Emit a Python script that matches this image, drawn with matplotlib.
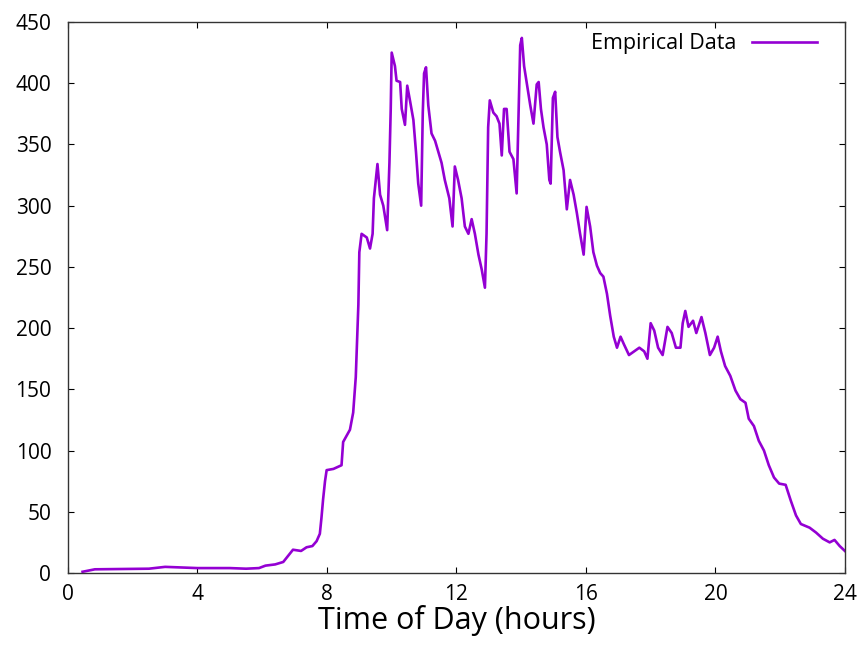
import matplotlib
matplotlib.use("Agg")
import matplotlib.pyplot as plt

# Time of day (hours) and empirical value
hours = [0.45, 0.83, 2.5, 3.0, 4.0, 5.0, 5.5, 5.9, 6.1, 6.4, 6.65, 6.8, 6.95, 7.2, 7.37,
         7.55, 7.68, 7.78, 7.83, 7.88, 7.94, 7.99, 8.2, 8.45, 8.5, 8.71, 8.81, 8.89, 8.94,
         8.97, 9.0, 9.07, 9.23, 9.33, 9.41, 9.45, 9.56, 9.64, 9.74, 9.86, 9.93, 9.97, 10.0,
         10.1, 10.15, 10.26, 10.31, 10.41, 10.48, 10.57, 10.67, 10.75, 10.82, 10.91, 10.96,
         11.0, 11.06, 11.13, 11.23, 11.34, 11.44, 11.54, 11.64, 11.78, 11.88, 11.95, 12.05,
         12.16, 12.26, 12.37, 12.47, 12.57, 12.68, 12.78, 12.88, 12.93, 12.98, 13.03, 13.14,
         13.24, 13.33, 13.4, 13.47, 13.55, 13.64, 13.76, 13.86, 13.91, 13.97, 14.02, 14.09,
         14.18, 14.28, 14.38, 14.48, 14.54, 14.61, 14.69, 14.79, 14.87, 14.91, 14.98, 15.05,
         15.12, 15.2, 15.31, 15.41, 15.51, 15.62, 15.72, 15.82, 15.93, 16.02, 16.13, 16.23,
         16.34, 16.44, 16.54, 16.65, 16.75, 16.86, 16.96, 17.07, 17.17, 17.33, 17.49, 17.65,
         17.8, 17.9, 18.0, 18.11, 18.23, 18.37, 18.52, 18.65, 18.78, 18.92, 18.99, 19.07,
         19.17, 19.31, 19.41, 19.57, 19.69, 19.83, 19.96, 20.07, 20.17, 20.3, 20.46, 20.62,
         20.77, 20.93, 21.03, 21.19, 21.34, 21.5, 21.65, 21.81, 21.97, 22.17, 22.33, 22.49,
         22.64, 22.91, 23.11, 23.32, 23.53, 23.68, 23.84, 24.0]
values = [1, 3, 3.5, 5, 4, 4, 3.5, 4, 6, 7, 9, 14, 19, 18, 21,
          22, 26, 32, 45, 60, 75, 84, 85, 88, 107, 117, 131, 160, 196,
          219, 262, 277, 274, 265, 277, 306, 334, 309, 300, 280, 335, 379, 425,
          414, 402, 401, 379, 366, 398, 385, 370, 344, 318, 300, 376,
          408, 413, 382, 359, 353, 344, 335, 321, 306, 283, 332, 321,
          306, 283, 277, 289, 277, 260, 248, 233, 277, 364, 386, 376,
          373, 367, 341, 379, 379, 344, 338, 310, 364, 431, 437, 414,
          399, 382, 367, 399, 401, 379, 364, 350, 321, 318, 388, 393,
          356, 344, 329, 297, 321, 309, 294, 277, 260, 299, 283, 262,
          251, 245, 242, 228, 210, 193, 184, 193, 187, 178, 181, 184,
          181, 175, 204, 198, 184, 178, 201, 196, 184, 184, 204, 214,
          201, 206, 196, 209, 196, 178, 184, 193, 181, 169, 161, 149,
          142, 139, 126, 120, 108, 100, 88, 78, 73, 72, 59, 47,
          40, 37, 33, 28, 25, 27, 22, 18]

xticks = [0, 4, 8, 12, 16, 20, 24]
yticks = [0, 50, 100, 150, 200, 250, 300, 350, 400, 450]

plt.rcParams['font.family'] = ['Open Sans', 'DejaVu Sans']

fig = plt.figure(figsize=(8.63, 6.47), dpi=100)
ax = fig.add_axes([0.0788, 0.1144, 0.9002, 0.8516])

ax.plot(hours, values, color='#9400D3', linewidth=1.9, label='Empirical Data')

ax.set_xlim(0, 24)
ax.set_ylim(0, 450)
ax.set_xticks(xticks)
ax.set_yticks(yticks)
ax.tick_params(direction='in', length=4.5, width=0.8, top=True, right=True,
               labelsize=15, colors='black')
ax.tick_params(axis='x', pad=8)
ax.tick_params(axis='y', pad=12)
for s in ax.spines.values():
    s.set_linewidth(1.0)
    s.set_color('#333333')

ax.set_xlabel('Time of Day (hours)', fontsize=22, labelpad=0)

ax.legend(loc='upper right', frameon=False, markerfirst=False, fontsize=15.5,
          handlelength=3.0, handletextpad=0.75, borderaxespad=0.0,
          bbox_to_anchor=(0.975, 0.995))

fig.savefig('out.png', dpi=100)
